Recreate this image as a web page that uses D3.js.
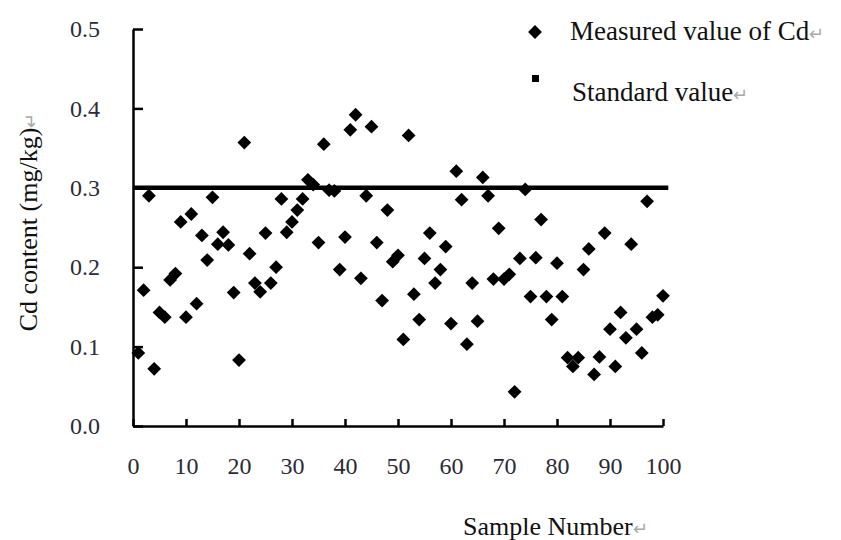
<!DOCTYPE html>
<html>
<head>
<meta charset="utf-8">
<script src="https://cdn.jsdelivr.net/npm/d3@7"></script>
<style>
  body { margin: 0; background: #fff; }
  svg { display: block; font-family: "Liberation Serif", "Times New Roman", serif; }
</style>
</head>
<body>
<svg id="chart" width="841" height="540"></svg>
<script>
// Cd content per sample (mg/kg), samples 1..100
const sampleNumbers = d3.range(1, 101);
const cdValues = [
  0.092, 0.171, 0.290, 0.072, 0.143, 0.137, 0.184, 0.192, 0.257, 0.137,
  0.267, 0.154, 0.240, 0.209, 0.288, 0.229, 0.244, 0.228, 0.168, 0.083,
  0.357, 0.217, 0.180, 0.169, 0.243, 0.180, 0.200, 0.286, 0.244, 0.257,
  0.272, 0.286, 0.310, 0.304, 0.231, 0.355, 0.297, 0.296, 0.197, 0.238,
  0.373, 0.392, 0.186, 0.290, 0.377, 0.231, 0.158, 0.272, 0.207, 0.215,
  0.109, 0.366, 0.166, 0.134, 0.211, 0.243, 0.180, 0.197, 0.226, 0.129,
  0.321, 0.285, 0.103, 0.180, 0.132, 0.313, 0.290, 0.185, 0.249, 0.185,
  0.191, 0.043, 0.211, 0.298, 0.163, 0.212, 0.260, 0.163, 0.134, 0.205,
  0.163, 0.086, 0.075, 0.086, 0.197, 0.223, 0.065, 0.087, 0.243, 0.122,
  0.075, 0.143, 0.111, 0.229, 0.122, 0.092, 0.283, 0.137, 0.140, 0.164
];
const standardX = [0, 101];
const standardValue = 0.3;
const xTicks = [0, 10, 20, 30, 40, 50, 60, 70, 80, 90, 100];
const yTicks = [0, 0.1, 0.2, 0.3, 0.4, 0.5];
const legendLabels = ["Measured value of Cd", "Standard value"];

const svg = d3.select("#chart");
const W = 841, H = 540;
const margin = { top: 29, right: 178, bottom: 114, left: 133 };

const x = d3.scaleLinear().domain([0, 100]).range([margin.left, W - margin.right]);
const y = d3.scaleLinear().domain([0, 0.5]).range([H - margin.bottom, margin.top]);

const points = sampleNumbers.map((s, i) => ({ s, v: cdValues[i] }));

// standard line
svg.append("line")
  .attr("x1", x(standardX[0])).attr("x2", x(standardX[1]))
  .attr("y1", y(standardValue)).attr("y2", y(standardValue))
  .attr("stroke", "#000").attr("stroke-width", 4.5);

// axes
const yAxis = svg.append("g")
  .attr("transform", `translate(${margin.left},0)`)
  .call(d3.axisLeft(y).tickValues(yTicks).tickFormat(d3.format(".1f"))
    .tickSizeInner(-10).tickSizeOuter(0).tickPadding(33));

const xAxis = svg.append("g")
  .attr("transform", `translate(0,${H - margin.bottom})`)
  .call(d3.axisBottom(x).tickValues(xTicks).tickFormat(d3.format("d"))
    .tickSizeInner(-7).tickSizeOuter(0).tickPadding(31));

[yAxis, xAxis].forEach(a => {
  a.select(".domain").attr("stroke", "#000").attr("stroke-width", 2.5);
  a.selectAll(".tick line").attr("stroke", "#000").attr("stroke-width", 2.5);
  a.selectAll(".tick text")
    .attr("fill", "#2b2b36")
    .style("font-family", "Liberation Serif, serif")
    .style("font-size", "24px");
});

// measured points
const diamond = d3.symbol().type(d3.symbolSquare).size(95);
svg.append("g").selectAll("path")
  .data(points)
  .enter().append("path")
  .attr("d", diamond)
  .attr("transform", d => `translate(${x(d.s)},${y(d.v)}) rotate(45)`)
  .attr("fill", "#000");

// axis titles
const yTitle = svg.append("text")
  .attr("transform", "translate(37,222) rotate(-90)")
  .attr("text-anchor", "middle")
  .style("font-size", "26px")
  .attr("fill", "#111");
yTitle.append("tspan").text("Cd content (mg/kg)");
yTitle.append("tspan").attr("fill", "#aaa").style("font-size", "18px").text("\u21B5");

const xTitle = svg.append("text")
  .attr("x", 463).attr("y", 535)
  .style("font-size", "26px")
  .attr("fill", "#111");
xTitle.append("tspan").text("Sample Number");
xTitle.append("tspan").attr("fill", "#aaa").style("font-size", "18px").text("\u21B5");

// legend
const lg = svg.append("g");
lg.append("path")
  .attr("d", d3.symbol().type(d3.symbolSquare).size(95))
  .attr("transform", "translate(535,32) rotate(45)")
  .attr("fill", "#000");
lg.append("rect")
  .attr("x", 532).attr("y", 75).attr("width", 7).attr("height", 7)
  .attr("fill", "#000");

legendLabels.forEach((t, i) => {
  const tx = lg.append("text")
    .attr("x", 570 + i * 2).attr("y", 40 + i * 61)
    .style("font-size", "27px")
    .attr("fill", "#111");
  tx.append("tspan").text(t);
  tx.append("tspan").attr("fill", "#aaa").style("font-size", "18px").text("\u21B5");
});
</script>
</body>
</html>
